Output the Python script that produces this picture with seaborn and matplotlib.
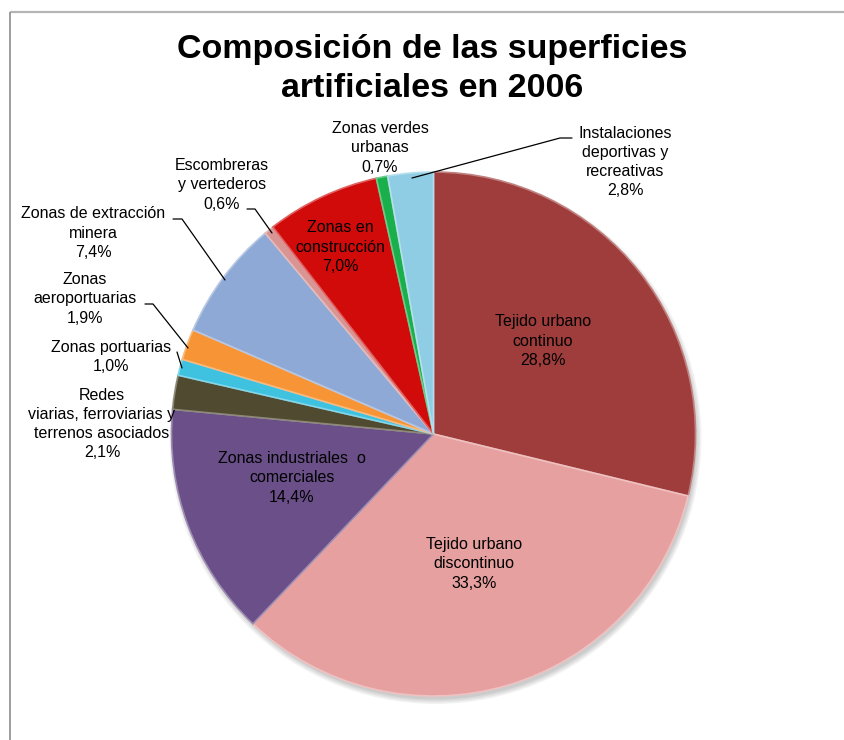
import matplotlib
matplotlib.use("Agg")
import matplotlib.pyplot as plt
import seaborn as sns
import numpy as np
from matplotlib.patches import Circle
from matplotlib.colors import to_rgb

sns.set_theme(style="white")
plt.rcParams['font.family'] = ['Liberation Sans', 'DejaVu Sans']

categories = [
    "Tejido urbano\ncontinuo",
    "Tejido urbano\ndiscontinuo",
    "Zonas industriales  o\ncomerciales",
    "Redes\nviarias, ferroviarias y\nterrenos asociados",
    "Zonas portuarias",
    "Zonas\naeroportuarias",
    "Zonas de extracción\nminera",
    "Escombreras\ny vertederos",
    "Zonas en\nconstrucción",
    "Zonas verdes\nurbanas",
    "Instalaciones\ndeportivas y\nrecreativas",
]
values = [28.8, 33.3, 14.4, 2.1, 1.0, 1.9, 7.4, 0.6, 7.0, 0.7, 2.8]
colors = ["#9E3D3B", "#E6A09F", "#6A4F88", "#4F4A30", "#3FC1E0", "#F79436",
          "#8EA9D6", "#D99594", "#D10A0A", "#19B04B", "#8ECDE3"]
title = "Composición de las superficies\nartificiales en 2006"

W, H = 844, 740
fig = plt.figure(figsize=(W / 100, H / 100), dpi=100)
ax = fig.add_axes([0, 0, 1, 1])

cx, cy, R = 433.5, H - 434, 262

# soft shadow
for i, a in enumerate([0.05, 0.05, 0.05, 0.06]):
    ax.add_patch(Circle((cx + 2, cy - 4), R + 4 - i * 1.5, color="black", alpha=a, lw=0, zorder=1))

pal = sns.color_palette(colors)
wedges, _ = ax.pie(values, colors=pal, startangle=90, counterclock=False,
                   center=(cx, cy), radius=R, frame=True,
                   wedgeprops=dict(linewidth=1.2, zorder=2))
ax.set_xlim(0, W)
ax.set_ylim(0, H)
ax.set_aspect('equal')
ax.axis('off')
for w, c in zip(wedges, pal):
    r, g, b = to_rgb(c)
    w.set_edgecolor((r + (1 - r) * 0.35, g + (1 - g) * 0.35, b + (1 - b) * 0.35))
    w.set_zorder(2)

# frame lines (top and left)
ax.plot([10, W], [H - 12, H - 12], color="#B4B4B4", lw=1.6, solid_capstyle='butt')
ax.plot([10, 10], [H - 12, 0], color="#8C8C8C", lw=1.2, solid_capstyle='butt')

def pct(v):
    return f"{v:.1f}%".replace(".", ",")

# label centers in pixel coordinates (x, y from top)
label_pos = [(543, 341), (474, 564), (292, 478), (102, 424), (111, 357), (85, 299),
             (93, 233), (222, 185), (340, 247), (380, 148), (625, 162)]
for cat, v, (lx, ly) in zip(categories, values, label_pos):
    ax.text(lx, H - ly, f"{cat}\n{pct(v)}", ha="center", va="center",
            fontsize=11.5, color="black", linespacing=1.36, zorder=5)

# leader lines (pixel coords from top)
leaders = [
    [(412, 178), (560, 138), (572, 138)],
    [(247, 209), (255, 209), (272, 233)],
    [(173, 219), (182, 219), (225, 280)],
    [(145, 304), (153, 304), (188, 348)],
    [(177, 352), (182, 368)],
]
for pts in leaders:
    xs = [p[0] for p in pts]
    ys = [H - p[1] for p in pts]
    ax.plot(xs, ys, color="black", lw=0.9, zorder=4)

fig.text(432 / W, 1 - 69 / H, title, ha="center", va="center", color="black",
         fontsize=24.5, fontweight="bold", linespacing=1.3)

fig.savefig("out.png", dpi=100)
